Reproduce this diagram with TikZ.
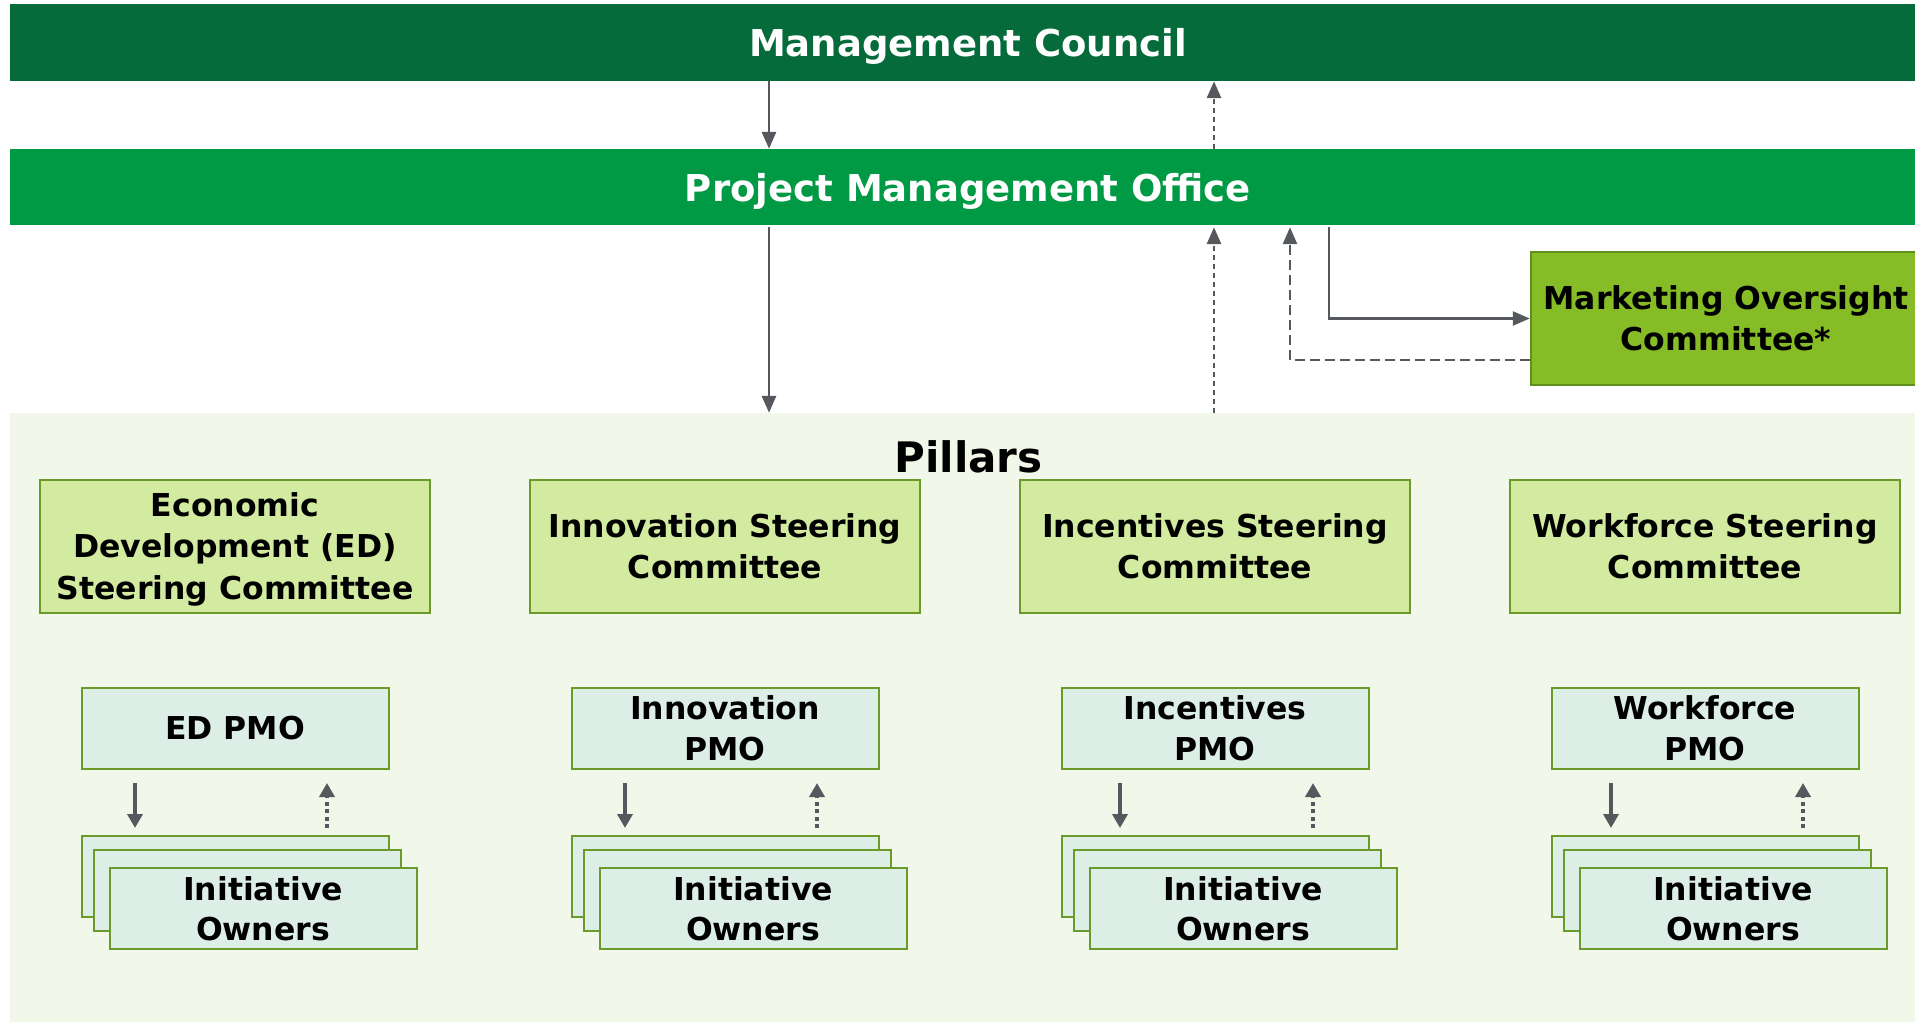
\documentclass[tikz,border=0pt]{standalone}
\usepackage{fontspec}
\setmainfont{DejaVu Sans}
\usetikzlibrary{arrows.meta}
\definecolor{mcgreen}{HTML}{066B3A}
\definecolor{pmogreen}{HTML}{009A44}
\definecolor{mocfill}{HTML}{86BC25}
\definecolor{mocline}{HTML}{5F8F1D}
\definecolor{stfill}{HTML}{D3EBA1}
\definecolor{boxline}{HTML}{6A9A2A}
\definecolor{pmfill}{HTML}{DDEEE7}
\definecolor{pilbg}{HTML}{F2F8E9}
\definecolor{arrgray}{HTML}{55585D}
\begin{document}
\begin{tikzpicture}[x=1pt,y=-1pt,
  bar/.style={rectangle, inner sep=0pt, text=white, text depth=0pt, font=\fontsize{37}{44}\selectfont\bfseries},
  stbox/.style={rectangle, draw=boxline, line width=2pt, fill=stfill, minimum width=390pt, minimum height=133pt, inner sep=0pt, text depth=0pt, align=center, font=\fontsize{31.5}{41.5}\selectfont\bfseries},
  pmbox/.style={rectangle, draw=boxline, line width=2pt, fill=pmfill, minimum width=307pt, minimum height=81pt, inner sep=0pt, align=center, font=\fontsize{31.5}{40.5}\selectfont\bfseries},
  iobox/.style={rectangle, draw=boxline, line width=2pt, fill=pmfill, minimum width=307pt, minimum height=81pt, inner sep=0pt, align=center, font=\fontsize{31.5}{40.5}\selectfont\bfseries},
  marr/.style={draw=arrgray, line width=2.8pt, -{Triangle[length=17pt,width=14pt]}},
  mdot/.style={marr, dash pattern=on 5pt off 4pt},
  mdash/.style={draw=arrgray, line width=2.5pt, dash pattern=on 10pt off 5pt},
  sarr/.style={draw=arrgray, line width=4pt, -{Triangle[length=14pt,width=15pt]}},
  sdot/.style={sarr, dash pattern=on 4pt off 3.5pt}
]
\useasboundingbox (0,0) rectangle (1915,1022);
\fill[white] (0,0) rectangle (1915,1022);

% top bars
\node[bar, fill=mcgreen, minimum width=1916pt, minimum height=77pt] (mc) at (968,42.5) {Management Council};
\node[bar, fill=pmogreen, minimum width=1916pt, minimum height=76pt] (pmo) at (968,187) {Project Management Office};

% pillars background
\node[rectangle, fill=pilbg, inner sep=0pt, minimum width=1916pt, minimum height=609pt] (pil) at (968,717.5) {};
\node[font=\fontsize{42}{48}\selectfont\bfseries, inner sep=0pt] (piltitle) at (968.5,457) {Pillars};

% marketing oversight committee
\node[rectangle, draw=mocline, line width=2.5pt, fill=mocfill, minimum width=390pt, minimum height=133pt, inner sep=0pt, align=center, font=\fontsize{31.5}{41.5}\selectfont\bfseries] (moc) at (1726,318.5) {Marketing Oversight\\Committee*};

% connector x positions
\coordinate (xa) at (769,0);
\coordinate (xb) at (1214,0);
\coordinate (xc) at (1329,0);
\coordinate (xd) at (1290,0);
\coordinate (yd) at (0,360);

\draw[marr] (xa |- mc.south) -- (xa |- pmo.north);
\draw[mdot] (xb |- pmo.north) -- (xb |- mc.south);
\draw[marr] ([yshift=-2pt]xa |- pmo.south) -- (xa |- pil.north);
\draw[mdot] (xb |- pil.north) -- ([yshift=-2pt]xb |- pmo.south);
\draw[marr, line width=2.5pt] ([yshift=-2pt]xc |- pmo.south) |- (moc.west);
\draw[mdash, -{Triangle[length=17pt,width=14pt]}] (moc.west |- yd) -| ([yshift=-2pt]xd |- pmo.south);

% pillars
\foreach \cx/\nm/\st/\pm/\dl/\dr in {
  235/ed/{Economic\\Development (ED)\\Steering Committee}/{ED PMO}/-100/92,
  725/inn/{Innovation Steering\\Committee}/{Innovation\\PMO}/-100/92,
  1215/inc/{Incentives Steering\\Committee}/{Incentives\\PMO}/-95/98,
  1705/wf/{Workforce Steering\\Committee}/{Workforce\\PMO}/-94/98} {
  \node[stbox] (st\nm) at (\cx,546) {\st};
  \node[pmbox] (pm\nm) at (\cx,728.5) {\pm};
  \node[iobox] (ioa\nm) at (\cx,876.5) {};
  \node[iobox] (iob\nm) at (\cx+12,890.5) {};
  \node[iobox] (ioc\nm) at (\cx+28,908.5) {Initiative\\Owners};
  \draw[sarr] ([xshift=\dl pt,yshift=-13pt]pm\nm.south) -- ([xshift=\dl pt,yshift=7pt]ioa\nm.north);
  \draw[sdot] ([xshift=\dr pt,yshift=7pt]ioa\nm.north) -- ([xshift=\dr pt,yshift=-13pt]pm\nm.south);
}
\end{tikzpicture}
\end{document}
